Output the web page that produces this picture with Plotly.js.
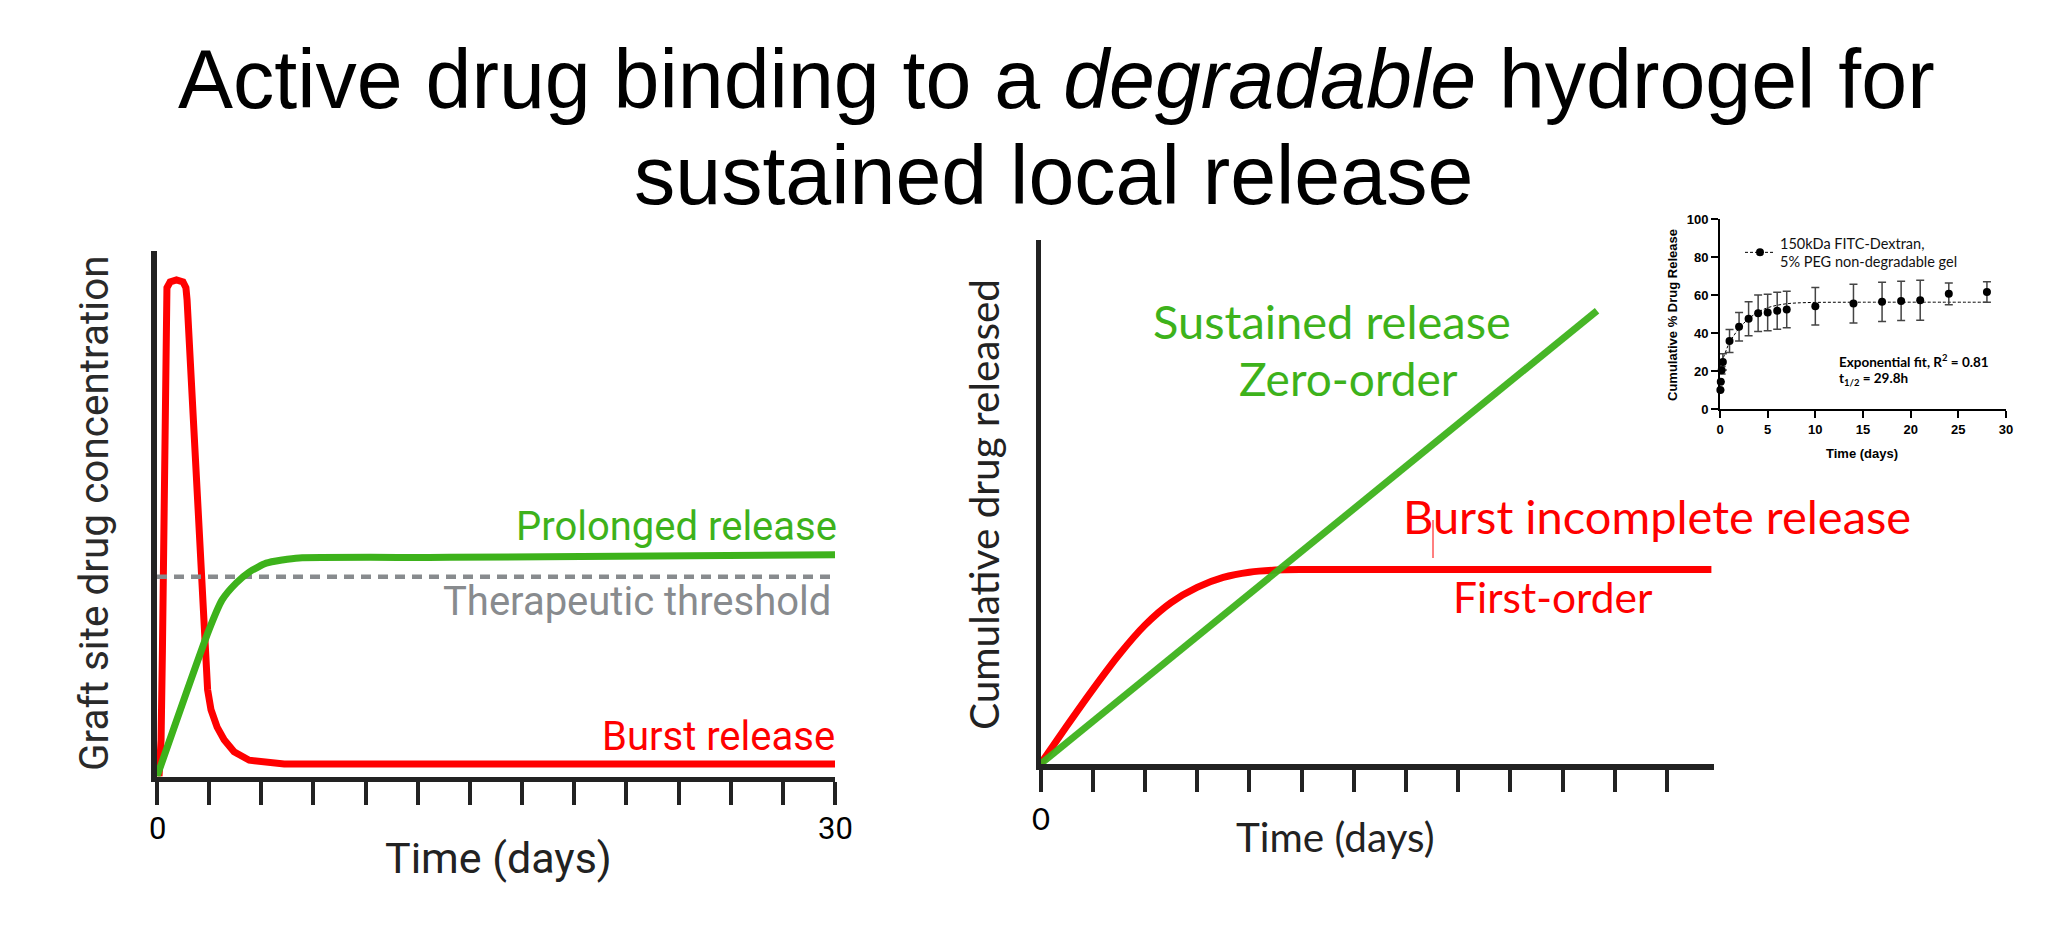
<!DOCTYPE html>
<html>
<head>
<meta charset="utf-8">
<script src="https://cdn.plot.ly/plotly-3.0.1.min.js"></script>
<style>
  html, body { margin: 0; padding: 0; background: #ffffff; }
  #chart { width: 2053px; height: 925px; }
</style>
</head>
<body>
<div id="chart"></div>
<script>
// ---- Left panel: graft-site concentration over 30 days ----
const burstDays  = [0.09, 0.18, 0.24, 0.31, 0.38, 0.40, 0.44, 0.58, 0.86, 1.15, 1.28, 1.33, 1.68, 2.08, 2.24, 2.39, 2.66, 2.97, 3.41, 4.08, 4.92, 5.63, 30.1];
const burstLevel = [0.0, 6.9, 24.0, 52.6, 81.2, 90.7, 93.0, 94.1, 94.5, 94.1, 93.0, 90.7, 62.1, 27.9, 16.5, 12.7, 9.4, 7.0, 4.7, 3.1, 2.6, 2.4, 2.4];

const prolongedDays  = [0, 2.30, 2.88, 3.50, 4.08, 4.83, 5.54, 6.29, 12.94, 30.0];
const prolongedLevel = [0, 27.9, 33.6, 36.8, 38.9, 40.6, 41.2, 41.6, 41.7, 42.2];

const thresholdDays  = [0, 30];
const thresholdLevel = 38;

const leftTickDays = Array.from({ length: 14 }, (_, i) => i * 30 / 13);
const leftTickLabels = ['0', '30'];

// ---- Middle panel: cumulative release profiles ----
const firstOrderTime    = [0, 0.5, 1.0, 1.5, 2.0, 2.5, 3.0, 3.5, 4.0, 4.5, 5.0, 12.85];
const firstOrderRelease = [0, 7.2, 14.2, 20.8, 26.5, 30.8, 33.7, 35.6, 36.6, 37.0, 37.1, 37.1];

const zeroOrderTime    = [0, 10.66];
const zeroOrderRelease = [0, 86.5];

const midTickVals = [0, 1, 2, 3, 4, 5, 6, 7, 8, 9, 10, 11, 12];
const midTickLabel = '0';

// ---- Inset: FITC-Dextran release from non-degradable PEG gel ----
const dextranDays    = [0.04, 0.08, 0.17, 0.3, 1, 2, 3, 4, 5, 6, 7, 10, 14, 17, 19, 21, 24, 28];
const dextranRelease = [10, 14.3, 20.4, 24.8, 35.8, 43.3, 47.5, 50.4, 50.8, 51.7, 52.4, 54.1, 55.5, 56.4, 56.9, 57.2, 60.6, 61.6];
const dextranSD      = [0, 0, 2, 4.3, 6, 7.5, 9, 9.6, 9.6, 9.7, 9.6, 9.9, 10.2, 10.3, 10.3, 10.5, 5.7, 5.4];

const fitDays    = [0, 0.5, 1, 1.5, 2, 3, 4, 5, 6, 7, 8, 10, 14, 28];
const fitRelease = [22, 29, 35, 39, 42.5, 47.5, 51, 53.3, 54.6, 55.4, 55.8, 56.1, 56.2, 56.2];

const insetXTicks = [0, 5, 10, 15, 20, 25, 30];
const insetYTicks = [0, 20, 40, 60, 80, 100];

// ---- Colours ----
const RED = '#ff0000';
const GREEN = '#3db21b';
const GRAY = '#888b8e';
const AXIS = '#222222';

// ---- Page geometry helpers (pixels -> paper) ----
const W = 2053, H = 925;
const px = v => v / W;
const py = v => 1 - v / H;

const traces = [
  { x: burstDays, y: burstLevel, xaxis: 'x', yaxis: 'y', mode: 'lines',
    line: { color: RED, width: 7 }, showlegend: false, hoverinfo: 'skip' },
  { x: thresholdDays, y: thresholdDays.map(() => thresholdLevel), xaxis: 'x', yaxis: 'y', mode: 'lines',
    line: { color: GRAY, width: 4.5, dash: '10px,7px' }, showlegend: false, hoverinfo: 'skip' },
  { x: prolongedDays, y: prolongedLevel, xaxis: 'x', yaxis: 'y', mode: 'lines',
    line: { color: GREEN, width: 7, shape: 'spline', smoothing: 0.6 }, showlegend: false, hoverinfo: 'skip' },

  { x: firstOrderTime, y: firstOrderRelease, xaxis: 'x2', yaxis: 'y2', mode: 'lines',
    line: { color: RED, width: 7, shape: 'spline', smoothing: 0.8 }, showlegend: false, hoverinfo: 'skip' },
  { x: zeroOrderTime, y: zeroOrderRelease, xaxis: 'x2', yaxis: 'y2', mode: 'lines',
    line: { color: GREEN, width: 7 }, opacity: 0.95, showlegend: false, hoverinfo: 'skip' },

  { x: fitDays, y: fitRelease, xaxis: 'x3', yaxis: 'y3', mode: 'lines',
    line: { color: '#000', width: 1, dash: '3px,2px', shape: 'spline' }, showlegend: false, hoverinfo: 'skip' },
  { x: dextranDays, y: dextranRelease, xaxis: 'x3', yaxis: 'y3', mode: 'markers',
    marker: { color: '#000', size: 8 }, cliponaxis: false,
    error_y: { type: 'data', array: dextranSD, visible: true, color: '#444', thickness: 1.5, width: 4 },
    showlegend: false, hoverinfo: 'skip' },
  { x: [null], y: [null], xaxis: 'x3', yaxis: 'y3', mode: 'lines+markers',
    name: '150kDa FITC-Dextran,<br>5% PEG non-degradable gel',
    line: { color: '#000', width: 1, dash: '3px,2px' }, marker: { color: '#000', size: 8 },
    showlegend: true, hoverinfo: 'skip' }
];

const bigAxis = {
  showgrid: false, zeroline: false, fixedrange: true, showline: true, linecolor: AXIS,
  showticklabels: false
};
const insetAxis = {
  showgrid: false, zeroline: false, fixedrange: true, showline: true, linecolor: '#000', linewidth: 2,
  ticks: 'outside', ticklen: 7, tickwidth: 2, tickcolor: '#000',
  tickfont: { family: 'Liberation Sans, Arial, sans-serif', size: 13, color: '#000', weight: 700 }
};

const roboto = 'Roboto, sans-serif';
const lato = 'Lato, sans-serif';
const arial = 'Liberation Sans, Arial, sans-serif';

function label(text, x, y, opts) {
  return Object.assign({
    text, x: px(x), y: py(y), xref: 'paper', yref: 'paper', showarrow: false,
    xanchor: 'center', yanchor: 'middle', borderpad: 0, borderwidth: 0
  }, opts);
}

// tick labels placed under their ticks, in the axes' own data coordinates
function tickLabel(text, xval, xref, yPix, font) {
  return { text, x: xval, xref, y: py(yPix), yref: 'paper', showarrow: false,
    xanchor: 'center', yanchor: 'middle', borderpad: 0, borderwidth: 0, font };
}

const annotations = [
  // Title
  label('Active drug binding to a <i>degradable</i> hydrogel for', 1056, 79,
    { font: { family: arial, size: 82.5, color: '#000' } }),
  label('sustained local release', 1053, 175,
    { font: { family: arial, size: 82.5, color: '#000' } }),

  // Left panel
  label('Graft site drug concentration', 94, 513,
    { textangle: -90, font: { family: roboto, size: 40.5, color: '#2a2a2a' } }),
  label('Time (days)', 498, 858, { font: { family: roboto, size: 43, color: '#222' } }),
  label('Prolonged release', 837, 526, { xanchor: 'right', font: { family: roboto, size: 40, color: GREEN } }),
  label('Therapeutic threshold', 831, 601, { xanchor: 'right', font: { family: roboto, size: 40, color: GRAY } }),
  label('Burst release', 835, 736, { xanchor: 'right', font: { family: roboto, size: 40, color: RED } }),
  tickLabel(leftTickLabels[0], leftTickDays[0], 'x', 828, { family: roboto, size: 31, color: '#000' }),
  tickLabel(leftTickLabels[1], leftTickDays[13], 'x', 828, { family: roboto, size: 31, color: '#000' }),

  // Middle panel
  label('Cumulative drug released', 983, 505,
    { textangle: -90, font: { family: lato, size: 40.5, color: '#222' } }),
  label('Time (days)', 1335, 836, { font: { family: lato, size: 40.5, color: '#222' } }),
  label('Sustained release', 1332, 321, { font: { family: lato, size: 47, color: GREEN } }),
  label('Zero-order', 1348, 378, { font: { family: lato, size: 46, color: GREEN } }),
  label('Burst incomplete release', 1657, 516, { font: { family: lato, size: 47, color: RED } }),
  label('First-order', 1553, 596, { font: { family: lato, size: 42.5, color: RED } }),
  tickLabel(midTickLabel, midTickVals[0], 'x2', 818, { family: lato, size: 31, color: '#000' }),

  // Inset
  label('Cumulative % Drug Release', 1672, 315,
    { textangle: -90, font: { family: arial, size: 13, color: '#000', weight: 700 } }),
  label('Time (days)', 1862, 453, { font: { family: arial, size: 13, color: '#000', weight: 700 } }),
  label('Exponential fit, R<sup>2</sup> = 0.81', 1839, 361,
    { xanchor: 'left', font: { family: lato, size: 13.5, color: '#000', weight: 700 } }),
  label('t<sub>1/2</sub> = 29.8h', 1839, 379,
    { xanchor: 'left', font: { family: lato, size: 13.5, color: '#000', weight: 700 } })
];

const layout = {
  width: W, height: H,
  margin: { l: 0, r: 0, t: 0, b: 0 },
  paper_bgcolor: '#ffffff', plot_bgcolor: 'rgba(0,0,0,0)',
  showlegend: true,
  legend: {
    x: px(1740), y: py(227), xanchor: 'left', yanchor: 'top',
    bgcolor: 'rgba(0,0,0,0)', borderwidth: 0, itemwidth: 30,
    font: { family: lato, size: 14.5, color: '#111' }
  },
  xaxis: Object.assign({}, bigAxis, {
    domain: [px(157), px(835)], range: [0, 30], anchor: 'y', linewidth: 5,
    ticks: 'outside', ticklen: 23, tickwidth: 4, tickcolor: AXIS,
    tickmode: 'array', tickvals: leftTickDays
  }),
  yaxis: Object.assign({}, bigAxis, {
    domain: [py(776.5), py(251)], range: [0, 100], anchor: 'x', linewidth: 6, ticks: ''
  }),
  xaxis2: Object.assign({}, bigAxis, {
    domain: [px(1040.5), px(1714)], range: [0, 12.9], anchor: 'y2', linewidth: 6,
    ticks: 'outside', ticklen: 22, tickwidth: 4, tickcolor: AXIS,
    tickmode: 'array', tickvals: midTickVals
  }),
  yaxis2: Object.assign({}, bigAxis, {
    domain: [py(764), py(240)], range: [0, 100], anchor: 'x2', linewidth: 5, ticks: ''
  }),
  xaxis3: Object.assign({}, insetAxis, {
    domain: [px(1720), px(2006)], range: [0, 30], anchor: 'y3',
    tickmode: 'array', tickvals: insetXTicks
  }),
  yaxis3: Object.assign({}, insetAxis, {
    domain: [py(409), py(219)], range: [0, 100], anchor: 'x3',
    tickmode: 'array', tickvals: insetYTicks
  }),
  annotations,
  shapes: [
    // thin stroke hanging below the "u" of "Burst"
    { type: 'line', xref: 'paper', yref: 'paper', x0: px(1433), x1: px(1433), y0: py(520), y1: py(558),
      line: { color: RED, width: 1 } }
  ]
};

Plotly.newPlot('chart', traces, layout, { staticPlot: true, displayModeBar: false });
</script>
</body>
</html>
